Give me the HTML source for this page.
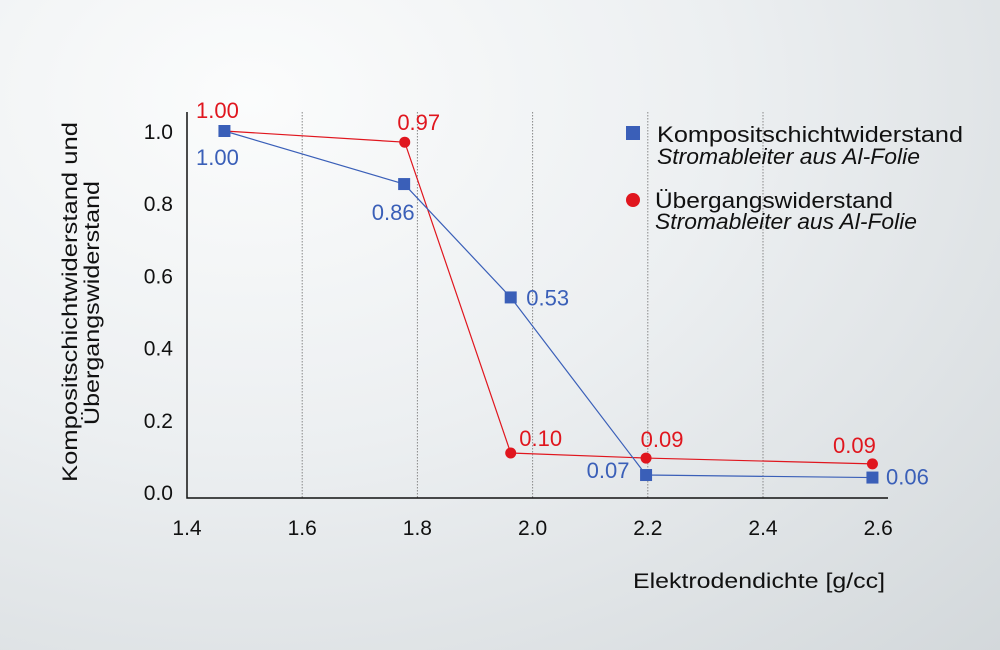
<!DOCTYPE html>
<html><head><meta charset="utf-8"><style>
html,body{margin:0;padding:0}
body{width:1000px;height:650px;overflow:hidden;background:radial-gradient(ellipse at 25% 15%,#fbfcfc 0%,#eceff1 45%,#d3d8db 100%);font-family:"Liberation Sans",sans-serif}
</style></head><body>
<svg width="1000" height="650" xmlns="http://www.w3.org/2000/svg" style="position:absolute;left:0;top:0">
<g id="grid"></g>
<g id="axes"></g>
<g id="series"></g>
<g font-size="21" fill="#111">
<text transform="translate(77,302) rotate(-90)" text-anchor="middle" textLength="360" lengthAdjust="spacingAndGlyphs">Kompositschichtwiderstand und</text>
<text transform="translate(99,303) rotate(-90)" text-anchor="middle" textLength="244" lengthAdjust="spacingAndGlyphs">Übergangswiderstand</text>
</g>
<text x="633" y="588" font-size="21" fill="#111" textLength="252" lengthAdjust="spacingAndGlyphs">Elektrodendichte [g/cc]</text>
<g font-size="22" fill="#111">
<rect x="626" y="126" width="14" height="14" fill="#3a5fb8"/>
<text x="657" y="142" textLength="306" lengthAdjust="spacingAndGlyphs">Kompositschichtwiderstand</text>
<text x="657" y="164" font-style="italic" textLength="263" lengthAdjust="spacingAndGlyphs">Stromableiter aus Al-Folie</text>
<circle cx="633" cy="200" r="7" fill="#e0161e"/>
<text x="655" y="208" textLength="238" lengthAdjust="spacingAndGlyphs">Übergangswiderstand</text>
<text x="655" y="229" font-style="italic" textLength="262" lengthAdjust="spacingAndGlyphs">Stromableiter aus Al-Folie</text>
</g>
</svg>
<script>
const xTicks=[1.4,1.6,1.8,2.0,2.2,2.4,2.6];
const yTicks=[0.0,0.2,0.4,0.6,0.8,1.0];
const blueX=[1.465,1.777,1.962,2.197,2.59];
const blueY=[1.0,0.853,0.539,0.047,0.04];
const blueLabels=["1.00","0.86","0.53","0.07","0.06"];
const redX=[1.465,1.778,1.962,2.197,2.59];
const redY=[1.0,0.969,0.108,0.094,0.078];
const redLabels=["1.00","0.97","0.10","0.09","0.09"];
const NS="http://www.w3.org/2000/svg";
function X(v){return 187+(v-1.4)*576;}
function Y(v){return 492-v*361;}
function mk(p,t,a){const e=document.createElementNS(NS,t);for(const k in a)e.setAttribute(k,a[k]);p.appendChild(e);return e;}
const grid=document.getElementById('grid'),axes=document.getElementById('axes'),ser=document.getElementById('series');
xTicks.forEach((t,i)=>{
 if(i>0&&i<xTicks.length-1){const l=mk(grid,'line',{x1:X(t),x2:X(t),y1:112,y2:498,stroke:'#888','stroke-width':1,'stroke-dasharray':'1.5 1.5'});
 
 }
 const tx=mk(axes,'text',{x:X(t),y:535,'text-anchor':'middle','font-size':21,fill:'#111'});tx.textContent=t.toFixed(1);
 
 
});
yTicks.forEach(t=>{const tx=mk(axes,'text',{x:173,y:Y(t)+8,'text-anchor':'end','font-size':21,fill:'#111'});tx.textContent=t.toFixed(1);
 
 });
const ax=mk(axes,'polyline',{points:'187,112 187,498 888,498',fill:'none',stroke:'#111','stroke-width':1.5});


const rl=mk(ser,'polyline',{points:redX.map((x,i)=>X(x)+','+Y(redY[i])).join(' '),fill:'none',stroke:'#e0161e','stroke-width':1.2});


const bl=mk(ser,'polyline',{points:blueX.map((x,i)=>X(x)+','+Y(blueY[i])).join(' '),fill:'none',stroke:'#3a5fb8','stroke-width':1.2});


const redOff=[[-7,-13],[14,-12],[30,-7],[16,-11],[-18,-11]];
redX.forEach((x,i)=>{const c=mk(ser,'circle',{cx:X(x),cy:Y(redY[i]),r:5.5,fill:'#e0161e'});
 
 
 const t=mk(ser,'text',{x:X(x)+redOff[i][0],y:Y(redY[i])+redOff[i][1],'text-anchor':'middle','font-size':22,fill:'#e0161e'});t.textContent=redLabels[i];
 
 });
const blueOff=[[-7,34],[-11,36],[37,8],[-38,3],[35,7]];
blueX.forEach((x,i)=>{const r=mk(ser,'rect',{x:X(x)-6,y:Y(blueY[i])-6,width:12,height:12,fill:'#3a5fb8'});
 
 
 const t=mk(ser,'text',{x:X(x)+blueOff[i][0],y:Y(blueY[i])+blueOff[i][1],'text-anchor':'middle','font-size':22,fill:'#3a5fb8'});t.textContent=blueLabels[i];
 
 });
</script>
</body></html>
